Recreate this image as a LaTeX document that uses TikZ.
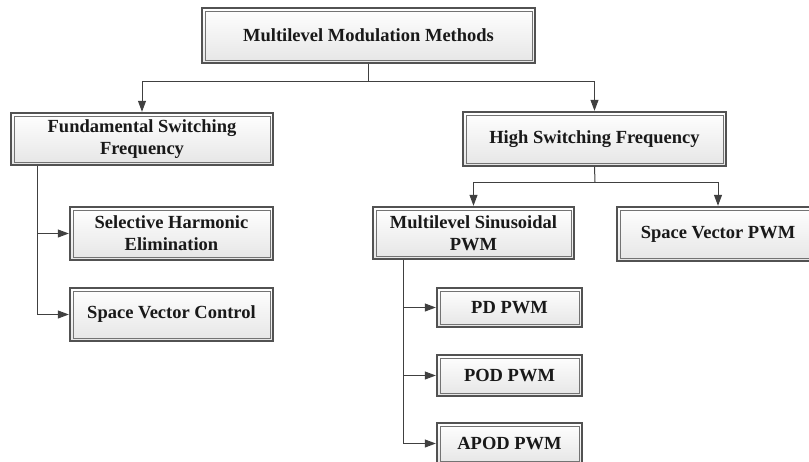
\documentclass[tikz,border=0pt]{standalone}
\usepackage{fontspec}
\setmainfont{Liberation Serif}
\usetikzlibrary{arrows.meta}
\begin{document}
\begin{tikzpicture}[x=1pt,y=-1pt]
\tikzset{
 box/.style={draw=black!68, line width=1.2pt,
   top color=white, bottom color=black!10, inner sep=0pt,
   font=\bfseries\fontsize{18.5}{22}\selectfont, align=center, text=black!90,
   path picture={\draw[black!55, line width=0.7pt]
     ([shift={(3pt,-3pt)}]path picture bounding box.north west) rectangle
     ([shift={(-3pt,3pt)}]path picture bounding box.south east);}},
 conn/.style={draw=black!75, line width=1pt},
 arr/.style={conn, -{Triangle[length=11pt,width=8pt]}, shorten >=0.6pt},
}
\useasboundingbox (0,0) rectangle (809,461);
\node[box, minimum width=333pt, minimum height=55pt] (top) at (368.5,35.5) {Multilevel Modulation Methods};
\node[box, minimum width=262pt, minimum height=52pt] (fund) at (142,139) {Fundamental Switching\\Frequency};
\node[box, minimum width=263pt, minimum height=54pt] (high) at (594.5,139) {High Switching Frequency};
\node[box, minimum width=201pt, minimum height=52pt] (msp) at (473.5,233) {Multilevel Sinusoidal\\PWM};
\node[box, minimum width=202pt, minimum height=54pt] (svp) at (718,234) {Space Vector PWM};
\node[box, minimum width=203pt, minimum height=53pt] (she) at (171.5,233.5) {Selective Harmonic\\Elimination};
\node[box, minimum width=203pt, minimum height=53pt] (svc) at (171.5,314.5) {Space Vector Control};
\node[box, minimum width=145pt, minimum height=39pt] (pd) at (509.5,307.5) {PD PWM};
\node[box, minimum width=145pt, minimum height=41pt] (pod) at (509.5,375.5) {POD PWM};
\node[box, minimum width=145pt, minimum height=41pt] (apod) at (509.5,443.5) {APOD PWM};
\coordinate (j1) at (368.5,81);
\coordinate (j2) at (595,182);
\draw[conn] (top.south) -- (j1);
\draw[arr] (j1) -| (fund.north);
\draw[arr] (j1) -| (high.north);
\draw[conn] (high.south) -- (j2);
\draw[arr] (j2) -| (msp.north);
\draw[arr] (j2) -| (svp.north);
\draw[arr] ([xshift=27pt]fund.south west) |- (she.west);
\draw[arr] ([xshift=27pt]fund.south west) |- (svc.west);
\draw[arr] ([xshift=31pt]msp.south west) |- (pd.west);
\draw[arr] ([xshift=31pt]msp.south west) |- (pod.west);
\draw[arr] ([xshift=31pt]msp.south west) |- (apod.west);
\end{tikzpicture}
\end{document}
